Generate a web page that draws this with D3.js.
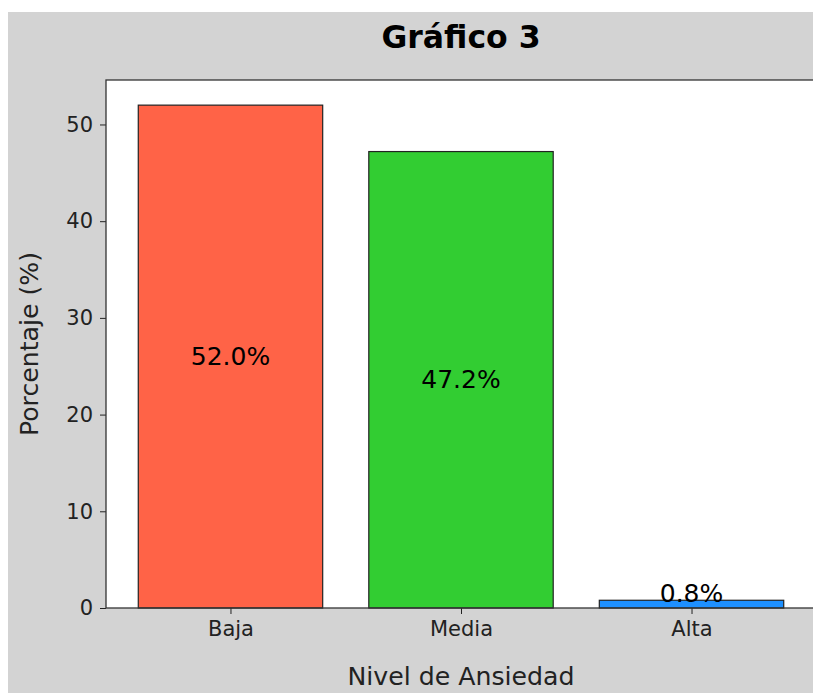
<!DOCTYPE html>
<html>
<head>
<meta charset="utf-8">
<script src="https://cdn.jsdelivr.net/npm/d3@7"></script>
<style>
  body { margin: 0; background: #ffffff; }
  svg { display: block; font-family: 'DejaVu Sans', sans-serif; }
</style>
</head>
<body>
<div id="chart"></div>
<script>
// data
const categories = ['Baja', 'Media', 'Alta'];
const percentages = [52.0, 47.2, 0.8];
const barColors = ['#FF6347', '#32CD32', '#1E90FF'];
const yTicks = [0, 10, 20, 30, 40, 50];

const svgWidth = 813;
const svgHeight = 693;
const plot = { left: 106, top: 80, right: 816, bottom: 608 };

const svg = d3.select('#chart')
  .append('svg')
  .attr('width', svgWidth)
  .attr('height', svgHeight);

// figure background (picture is cropped, white strip on top/left)
svg.append('rect')
  .attr('x', 8).attr('y', 12)
  .attr('width', svgWidth).attr('height', svgHeight)
  .attr('fill', '#D3D3D3');

// scales, matplotlib-like limits
const x = d3.scaleLinear()
  .domain([-0.54, categories.length - 1 + 0.54])
  .range([plot.left, plot.right]);
const y = d3.scaleLinear()
  .domain([0, d3.max(percentages) * 1.05])
  .range([plot.bottom, plot.top]);
const barW = x(0.8) - x(0);

const chart = svg.append('g');

chart.append('rect')
  .attr('x', plot.left).attr('y', plot.top)
  .attr('width', plot.right - plot.left)
  .attr('height', plot.bottom - plot.top)
  .attr('fill', '#ffffff');

// bars
chart.selectAll('.bar')
  .data(percentages)
  .enter()
  .append('rect')
  .attr('class', 'bar')
  .attr('x', (d, i) => x(i) - barW / 2)
  .attr('y', (d) => y(d))
  .attr('width', barW)
  .attr('height', (d) => y(0) - y(d))
  .attr('fill', (d, i) => barColors[i])
  .attr('stroke', '#222')
  .attr('stroke-width', 1.2);

// value labels
chart.selectAll('.val')
  .data(percentages)
  .enter()
  .append('text')
  .attr('class', 'val')
  .attr('x', (d, i) => x(i))
  .attr('y', (d) => y(Math.max(d / 2, 1.45)))
  .attr('text-anchor', 'middle')
  .attr('dominant-baseline', 'central')
  .attr('font-size', 25)
  .attr('fill', '#000')
  .text((d) => d.toFixed(1) + '%');

// axes
const yAxis = d3.axisLeft(y).tickValues(yTicks).tickSize(6).tickPadding(7);
const gy = chart.append('g')
  .attr('transform', `translate(${plot.left},0)`)
  .call(yAxis);
gy.select('.domain').remove();
gy.selectAll('text').attr('font-size', 21).attr('fill', '#222').attr('font-family', 'DejaVu Sans');
gy.selectAll('line').attr('stroke', '#222');

const xAxis = d3.axisBottom(x)
  .tickValues(d3.range(categories.length))
  .tickFormat((i) => categories[i])
  .tickSize(6).tickPadding(7);
const gx = chart.append('g')
  .attr('transform', `translate(0,${plot.bottom})`)
  .call(xAxis);
gx.select('.domain').remove();
gx.selectAll('text').attr('font-size', 21).attr('fill', '#222').attr('font-family', 'DejaVu Sans');
gx.selectAll('line').attr('stroke', '#222');

// spines
chart.append('rect')
  .attr('x', plot.left).attr('y', plot.top)
  .attr('width', plot.right - plot.left)
  .attr('height', plot.bottom - plot.top)
  .attr('fill', 'none')
  .attr('stroke', '#333')
  .attr('stroke-width', 1.3);

// titles
svg.append('text')
  .attr('x', (plot.left + plot.right) / 2)
  .attr('y', 48)
  .attr('text-anchor', 'middle')
  .attr('font-size', 31.5)
  .attr('font-weight', 'bold')
  .text('Gráfico 3');

svg.append('text')
  .attr('x', (plot.left + plot.right) / 2)
  .attr('y', 685)
  .attr('text-anchor', 'middle')
  .attr('font-size', 25.2)
  .attr('fill', '#222')
  .text('Nivel de Ansiedad');

svg.append('text')
  .attr('transform', `translate(38,${(plot.top + plot.bottom) / 2}) rotate(-90)`)
  .attr('text-anchor', 'middle')
  .attr('font-size', 25.2)
  .attr('fill', '#222')
  .text('Porcentaje (%)');
</script>
</body>
</html>
